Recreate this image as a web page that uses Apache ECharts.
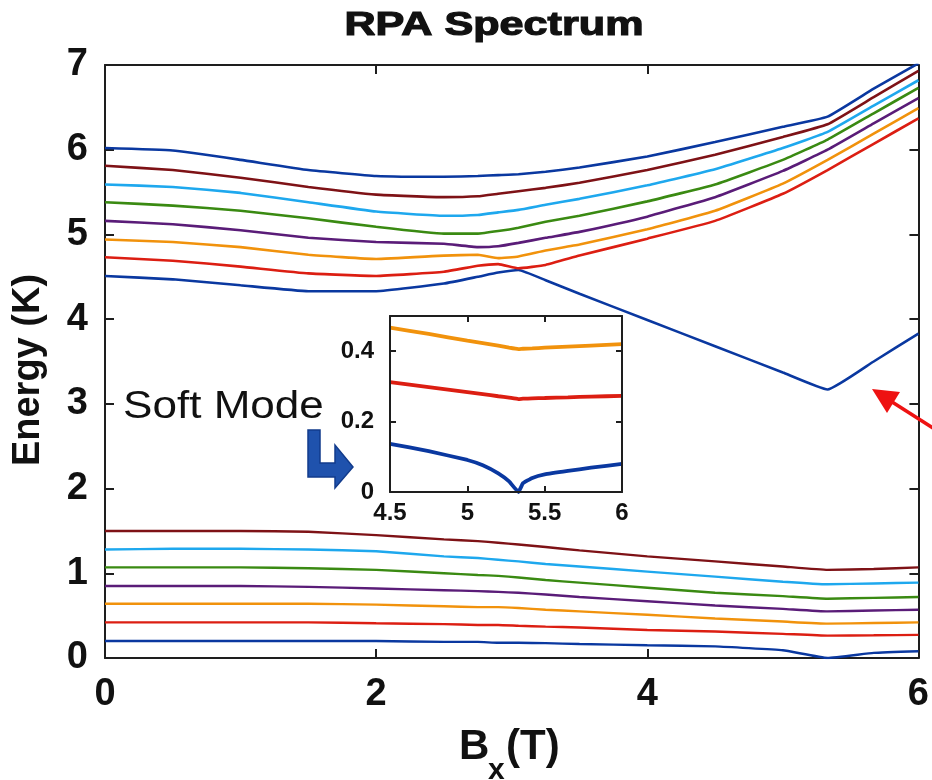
<!DOCTYPE html>
<html>
<head>
<meta charset="utf-8">
<title>RPA Spectrum</title>
<script src="https://cdn.jsdelivr.net/npm/echarts@6/dist/echarts.min.js"></script>
<style>
  html, body { margin: 0; padding: 0; background: #ffffff; }
  #chart { width: 932px; height: 780px; }
</style>
</head>
<body>
<div id="chart"></div>
<script>
// Field values B_x (T) at which the mode energies are sampled
const Bx = [0, 0.5, 1.0, 1.5, 2.0, 2.5, 2.75, 2.9, 3.05, 3.25, 3.5, 4.0, 4.5, 5.0, 5.33, 5.67, 6.0];

// Upper band of RPA modes (K), lowest to highest
const upBlue   = [4.51, 4.47, 4.40, 4.33, 4.33, 4.42, 4.50, 4.55, 4.58, 4.46, 4.30, 3.99, 3.68, 3.37, 3.17, 3.50, 3.83];
const upRed    = [4.73, 4.69, 4.62, 4.54, 4.51, 4.56, 4.63, 4.65, 4.60, 4.64, 4.75, 4.95, 5.16, 5.48, 5.76, 6.07, 6.37];
const upOrange = [4.94, 4.91, 4.85, 4.76, 4.71, 4.75, 4.76, 4.72, 4.74, 4.81, 4.88, 5.06, 5.28, 5.60, 5.88, 6.19, 6.49];
const upPurple = [5.16, 5.12, 5.05, 4.96, 4.91, 4.89, 4.85, 4.86, 4.90, 4.96, 5.03, 5.21, 5.44, 5.75, 6.00, 6.31, 6.61];
const upGreen  = [5.38, 5.34, 5.28, 5.19, 5.09, 5.01, 5.01, 5.04, 5.08, 5.15, 5.22, 5.39, 5.59, 5.88, 6.12, 6.43, 6.73];
const upSky    = [5.59, 5.56, 5.49, 5.38, 5.27, 5.22, 5.23, 5.26, 5.29, 5.35, 5.42, 5.58, 5.77, 6.02, 6.21, 6.52, 6.82];
const upMaroon = [5.81, 5.76, 5.67, 5.56, 5.47, 5.44, 5.45, 5.48, 5.51, 5.55, 5.61, 5.76, 5.94, 6.15, 6.30, 6.62, 6.93];
const upTop    = [6.02, 5.99, 5.88, 5.76, 5.69, 5.68, 5.69, 5.70, 5.71, 5.74, 5.79, 5.92, 6.09, 6.27, 6.39, 6.72, 7.02];

// Lower band of RPA modes (K), lowest to highest
const loBlue   = [0.20, 0.20, 0.20, 0.20, 0.20, 0.19, 0.19, 0.18, 0.18, 0.175, 0.165, 0.15, 0.137, 0.091, 0.0, 0.06, 0.08];
const loRed    = [0.42, 0.42, 0.42, 0.42, 0.41, 0.40, 0.39, 0.39, 0.38, 0.37, 0.36, 0.33, 0.312, 0.285, 0.264, 0.268, 0.273];
const loOrange = [0.64, 0.64, 0.64, 0.64, 0.63, 0.61, 0.60, 0.60, 0.59, 0.57, 0.55, 0.51, 0.467, 0.43, 0.406, 0.413, 0.42];
const loPurple = [0.85, 0.85, 0.85, 0.84, 0.82, 0.80, 0.79, 0.78, 0.77, 0.75, 0.72, 0.67, 0.62, 0.58, 0.55, 0.56, 0.57];
const loGreen  = [1.07, 1.07, 1.07, 1.06, 1.04, 1.00, 0.98, 0.97, 0.95, 0.92, 0.89, 0.83, 0.77, 0.73, 0.70, 0.71, 0.72];
const loSky    = [1.28, 1.29, 1.29, 1.28, 1.26, 1.20, 1.18, 1.16, 1.14, 1.11, 1.08, 1.02, 0.96, 0.90, 0.87, 0.88, 0.89];
const loMaroon = [1.50, 1.50, 1.50, 1.49, 1.45, 1.40, 1.38, 1.36, 1.34, 1.31, 1.27, 1.20, 1.14, 1.08, 1.04, 1.05, 1.07];

// Close-up of the three lowest modes around the softening point
const zoomBx     = [4.5, 4.75, 5.0, 5.1, 5.2, 5.27, 5.33, 5.36, 5.42, 5.5, 5.65, 5.8, 6.0];
const zoomBlue   = [0.137, 0.116, 0.091, 0.076, 0.053, 0.030, 0.0, 0.025, 0.040, 0.050, 0.060, 0.069, 0.080];
const zoomRed    = [0.312, 0.298, 0.284, 0.278, 0.272, 0.268, 0.264, 0.265, 0.266, 0.267, 0.269, 0.271, 0.273];
const zoomOrange = [0.467, 0.449, 0.430, 0.423, 0.416, 0.410, 0.406, 0.407, 0.408, 0.410, 0.413, 0.416, 0.420];

// Tick values
const mainXTicks = [0, 2, 4, 6];
const mainYTicks = [0, 1, 2, 3, 4, 5, 6, 7];
const zoomXTicks = [4.5, 5, 5.5, 6];
const zoomYTicks = [0, 0.2, 0.4];

const COLORS = {
  blue: '#0a38a0', red: '#dc1e12', orange: '#f1920c', purple: '#5a1c78',
  green: '#3a8a12', sky: '#1ea8ee', maroon: '#7e1216'
};

const FONT = '"Liberation Sans", Arial, Helvetica, sans-serif';
const AXIS_COLOR = '#1e1e1e';

function pairs(xs, ys) { return xs.map((x, i) => [x, ys[i]]); }

function lineSeries(name, xs, ys, color, width, xi, yi, smooth, z) {
  return {
    name: name, type: 'line', xAxisIndex: xi, yAxisIndex: yi,
    data: pairs(xs, ys), showSymbol: false, symbol: 'none',
    smooth: smooth,
    lineStyle: { color: color, width: width }, itemStyle: { color: color },
    z: z, silent: true
  };
}

function valueAxis(opts) {
  return Object.assign({
    type: 'value',
    axisLine: { show: true, onZero: false, lineStyle: { color: AXIS_COLOR, width: 2 } },
    axisTick: { show: true, inside: true, length: 9, lineStyle: { color: AXIS_COLOR, width: 2 } },
    splitLine: { show: false },
    axisLabel: { show: false }
  }, opts);
}

const labelStyle = (size, margin) => ({
  show: true, color: '#111', fontSize: size, fontWeight: 'bold', fontFamily: FONT, margin: margin
});

const upper = [
  ['upBlue', upBlue, COLORS.blue], ['upRed', upRed, COLORS.red], ['upOrange', upOrange, COLORS.orange],
  ['upPurple', upPurple, COLORS.purple], ['upGreen', upGreen, COLORS.green], ['upSky', upSky, COLORS.sky],
  ['upMaroon', upMaroon, COLORS.maroon], ['upTop', upTop, COLORS.blue]
];
const lower = [
  ['loBlue', loBlue, COLORS.blue], ['loRed', loRed, COLORS.red], ['loOrange', loOrange, COLORS.orange],
  ['loPurple', loPurple, COLORS.purple], ['loGreen', loGreen, COLORS.green], ['loSky', loSky, COLORS.sky],
  ['loMaroon', loMaroon, COLORS.maroon]
];

const series = [];
upper.forEach(([n, ys, c]) => series.push(lineSeries(n, Bx, ys, c, 2.6, 0, 0, 0.12, 3)));
lower.forEach(([n, ys, c]) => series.push(lineSeries(n, Bx, ys, c, 2.4, 0, 0, 0.12, 3)));
series.push(lineSeries('zoomOrange', zoomBx, zoomOrange, COLORS.orange, 3.8, 2, 2, 0.1, 8));
series.push(lineSeries('zoomRed', zoomBx, zoomRed, COLORS.red, 3.8, 2, 2, 0.1, 8));
series.push(lineSeries('zoomBlue', zoomBx, zoomBlue, COLORS.blue, 3.8, 2, 2, 0.1, 8));

const fmt = (ticks) => (v) => ticks.some(t => Math.abs(t - v) < 1e-6) ? String(+v.toFixed(2)) : '';

const chart = echarts.init(document.getElementById('chart'), null, { renderer: 'canvas' });

const insetTick = { show: true, inside: true, length: 6, lineStyle: { color: AXIS_COLOR, width: 2 } };

chart.setOption({
  animation: false,
  backgroundColor: '#ffffff',
  grid: [
    { left: 105, top: 65, width: 818, height: 593, show: false },
    { left: 390, top: 316, width: 232, height: 176, show: true, backgroundColor: '#ffffff', borderWidth: 0, z: 5 }
  ],
  xAxis: [
    valueAxis({ gridIndex: 0, position: 'bottom', min: 0, max: 6, interval: 2,
      axisLabel: Object.assign(labelStyle(38, 18), { formatter: fmt(mainXTicks) }) }),
    valueAxis({ gridIndex: 0, position: 'top', min: 0, max: 6, interval: 2 }),
    valueAxis({ gridIndex: 1, position: 'bottom', min: 4.5, max: 6, interval: 0.5, z: 9, axisTick: insetTick,
      axisLabel: Object.assign(labelStyle(24, 9), { formatter: fmt(zoomXTicks) }) }),
    valueAxis({ gridIndex: 1, position: 'top', min: 4.5, max: 6, interval: 0.5, z: 9, axisTick: insetTick })
  ],
  yAxis: [
    valueAxis({ gridIndex: 0, position: 'left', min: 0, max: 7, interval: 1,
      axisLabel: Object.assign(labelStyle(38, 17), { formatter: fmt(mainYTicks) }) }),
    valueAxis({ gridIndex: 0, position: 'right', min: 0, max: 7, interval: 1 }),
    valueAxis({ gridIndex: 1, position: 'left', min: 0, max: 0.5, interval: 0.2, z: 9, axisTick: insetTick,
      axisLabel: Object.assign(labelStyle(24, 16), { formatter: fmt(zoomYTicks) }) }),
    valueAxis({ gridIndex: 1, position: 'right', min: 0, max: 0.5, interval: 0.2, z: 9, axisTick: insetTick })
  ],
  series: series,
  graphic: [
    { type: 'text', x: 494, y: 26, scaleX: 1.27, z: 10,
      style: { text: 'RPA Spectrum', font: 'bold 34px ' + FONT, fill: '#111', stroke: '#111', lineWidth: 1.2,
               textAlign: 'center', textVerticalAlign: 'middle' } },
    { type: 'text', x: 29, y: 370, rotation: Math.PI / 2, z: 10,
      style: { text: 'Energy (K)', font: 'bold 38px ' + FONT, fill: '#111',
               textAlign: 'center', textVerticalAlign: 'middle' } },
    { type: 'text', x: 459, y: 747, z: 10,
      style: { text: 'B', font: 'bold 42px ' + FONT, fill: '#111', textAlign: 'left', textVerticalAlign: 'middle' } },
    { type: 'text', x: 488, y: 771, z: 10,
      style: { text: 'x', font: 'bold 30px ' + FONT, fill: '#111', textAlign: 'left', textVerticalAlign: 'middle' } },
    { type: 'text', x: 506, y: 747, z: 10,
      style: { text: '(T)', font: 'bold 42px ' + FONT, fill: '#111', textAlign: 'left', textVerticalAlign: 'middle' } },
    { type: 'text', x: 123, y: 407, scaleX: 1.13, z: 10,
      style: { text: 'Soft Mode', font: '39px ' + FONT, fill: '#111',
               textAlign: 'left', textVerticalAlign: 'middle' } },
    // bent pointer from the label towards the close-up
    { type: 'polygon', z: 10,
      shape: { points: [[308, 430], [320, 430], [320, 463], [335, 463], [335, 445], [353, 467], [335, 488], [335, 477], [308, 477]] },
      style: { fill: '#1f52ad', stroke: '#123b8c', lineWidth: 1.5 } },
    // red pointer at the minimum of the descending branch
    { type: 'line', z: 10, shape: { x1: 936, y1: 430, x2: 889, y2: 400 },
      style: { stroke: '#ee1212', lineWidth: 3.5 } },
    { type: 'polygon', z: 10,
      shape: { points: [[872, 389], [900, 392], [887, 413]] },
      style: { fill: '#ee1212' } }
  ]
});
</script>
</body>
</html>
